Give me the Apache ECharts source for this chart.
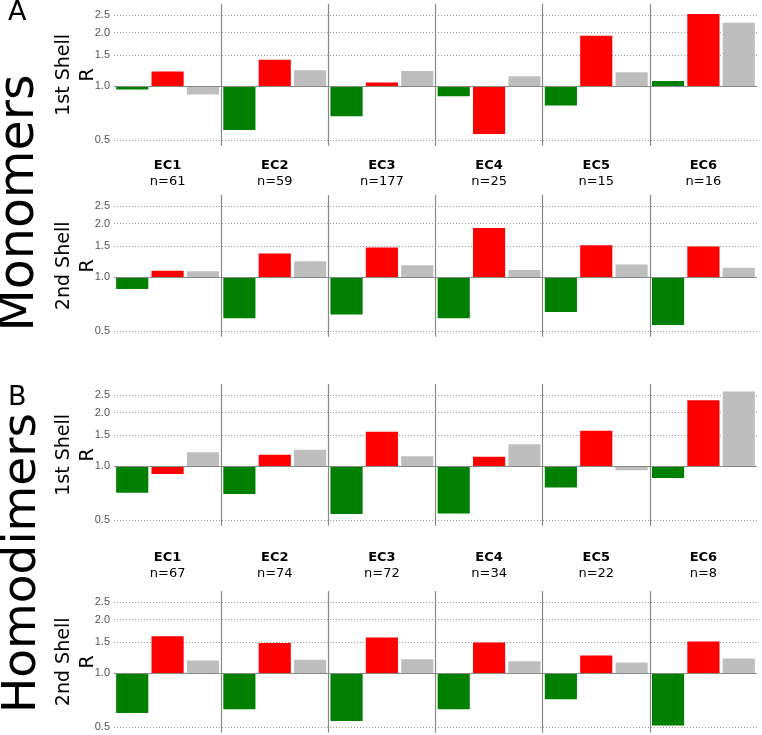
<!DOCTYPE html>
<html><head><meta charset="utf-8">
<script src="https://cdn.jsdelivr.net/npm/echarts@6/dist/echarts.min.js"></script>
<style>html,body{margin:0;padding:0;background:#fff}#c{width:762px;height:735px}</style>
</head><body><div id="c"></div>
<script>
const categories = ['EC1', 'EC2', 'EC3', 'EC4', 'EC5', 'EC6'];
const monoCounts = [61, 59, 177, 25, 15, 16];
const homoCounts = [67, 74, 72, 34, 22, 8];
const yTicks = [0.5, 1.0, 1.5, 2.0, 2.5];
const panelNames = ['1st Shell', '2nd Shell', '1st Shell', '2nd Shell'];

const mono1Green = [0.96, 0.57, 0.68, 0.88, 0.78, 1.07];
const mono1Red   = [1.21, 1.41, 1.05, 0.54, 1.92, 2.54];
const mono1Gray  = [0.90, 1.23, 1.22, 1.14, 1.20, 2.27];

const mono2Green = [0.86, 0.59, 0.62, 0.59, 0.64, 0.54];
const mono2Red   = [1.09, 1.36, 1.47, 1.89, 1.51, 1.49];
const mono2Gray  = [1.08, 1.23, 1.17, 1.10, 1.18, 1.13];

const homo1Green = [0.71, 0.70, 0.54, 0.545, 0.76, 0.86];
const homo1Red   = [0.905, 1.16, 1.56, 1.13, 1.58, 2.34];
const homo1Gray  = [1.20, 1.24, 1.14, 1.33, 0.95, 2.62];

const homo2Green = [0.60, 0.63, 0.54, 0.63, 0.715, 0.51];
const homo2Red   = [1.61, 1.48, 1.585, 1.49, 1.26, 1.505];
const homo2Gray  = [1.18, 1.19, 1.20, 1.17, 1.15, 1.21];

const panels = [
  [mono1Green, mono1Red, mono1Gray],
  [mono2Green, mono2Red, mono2Gray],
  [homo1Green, homo1Red, homo1Gray],
  [homo2Green, homo2Red, homo2Gray]
];
const colors = ['#008000', '#ff0000', '#bebebe'];
const gridTops = [4, 195, 384, 591];
const gridH = 141.7;
const labelCounts = [monoCounts, null, homoCounts, null];
const labelMargins = [12, 0, 24, 0];

const grids = [], xAxes = [], yAxes = [], series = [];
gridTops.forEach((top, i) => {
  grids.push({ left: 114, width: 643, top: top, height: gridH });
  const counts = labelCounts[i];
  xAxes.push({
    type: 'category', gridIndex: i, data: categories, boundaryGap: true,
    axisLine: { show: false }, axisTick: { show: false },
    axisLabel: counts ? {
      show: true, interval: 0, margin: labelMargins[i],
      formatter: (v, idx) => '{b|' + v + '}\n{n|n=' + counts[idx] + '}',
      rich: {
        b: { fontFamily: 'DejaVu Sans', fontWeight: 'bold', fontSize: 13, lineHeight: 16, color: '#000' },
        n: { fontFamily: 'DejaVu Sans', fontSize: 13, lineHeight: 16, color: '#000' }
      }
    } : { show: false },
    splitLine: { show: true, interval: 0, showMinLine: false, showMaxLine: false,
      lineStyle: { color: '#888', width: 1.2 } }
  });
  yAxes.push({
    type: 'log', logBase: 10, gridIndex: i, min: 0.465, max: 2.89,
    name: panelNames[i] + '\nR', nameLocation: 'middle', nameRotate: 90, nameGap: 14,
    nameMoveOverlap: false,
    nameTextStyle: { fontFamily: 'DejaVu Sans', fontSize: 19, lineHeight: 24, color: '#000' },
    axisLine: { show: false },
    axisTick: { show: false, customValues: yTicks },
    axisLabel: { customValues: yTicks, formatter: v => Number(v).toFixed(1), margin: 4,
      fontFamily: 'Liberation Sans', fontSize: 11, color: '#555' },
    splitLine: { show: true, lineStyle: { color: '#999', width: 1, type: [1, 2] } }
  });
  panels[i].forEach((vals, k) => {
    const s = {
      type: 'bar', xAxisIndex: i, yAxisIndex: i, data: vals,
      barCategoryGap: '4%', barGap: '10%',
      itemStyle: { color: colors[k] }, silent: true, animation: false
    };
    if (k === 2) {
      s.markLine = { silent: true, symbol: 'none', label: { show: false }, animation: false,
        lineStyle: { color: '#888', width: 1, type: 'solid' }, data: [{ yAxis: 1 }] };
    }
    series.push(s);
  });
});

const chart = echarts.init(document.getElementById('c'), null, { renderer: 'canvas' });
chart.setOption({
  animation: false,
  backgroundColor: '#fff',
  grid: grids, xAxis: xAxes, yAxis: yAxes, series: series,
  graphic: [
    { type: 'text', left: 8, top: -1, style: { text: 'A', font: '27px "DejaVu Sans"', fill: '#000' } },
    { type: 'text', left: 8, top: 384, style: { text: 'B', font: '27px "DejaVu Sans"', fill: '#000' } },
    { type: 'text', x: 20, y: 203, rotation: Math.PI / 2,
      style: { text: 'Monomers', font: '49px "DejaVu Sans"', fill: '#000', align: 'center', verticalAlign: 'middle' } },
    { type: 'text', x: 23, y: 563, rotation: Math.PI / 2,
      style: { text: 'Homodimers', font: '47px "DejaVu Sans"', fill: '#000', align: 'center', verticalAlign: 'middle' } }
  ]
});
</script></body></html>
